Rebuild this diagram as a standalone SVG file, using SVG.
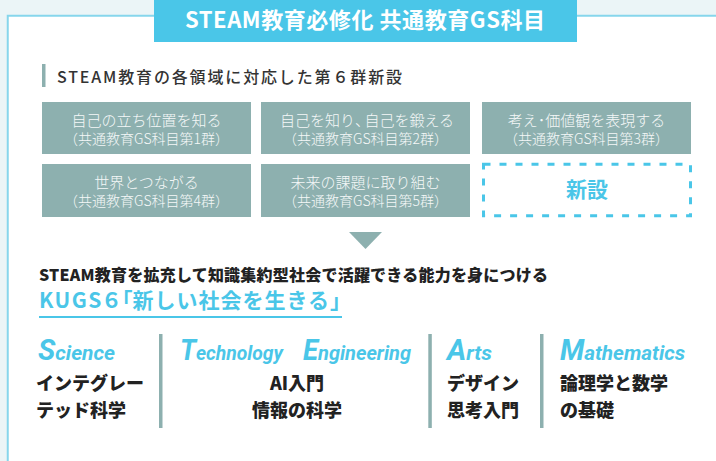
<svg xmlns="http://www.w3.org/2000/svg" width="716" height="461" viewBox="0 0 716 461">
<defs>
<style>
.jp{font-family:"Noto Sans CJK JP","Noto Sans",sans-serif}
.box{fill:#8DB0AF}
.bt1{font-size:15px;fill:#F5F8F8;font-weight:300;text-anchor:middle}
.bt2{font-size:14px;fill:#F5F8F8;font-weight:300;text-anchor:middle}
.en{font-family:Roboto,"Liberation Sans",sans-serif;font-weight:700;font-style:italic;fill:#4AC6E8}
.big{font-size:29px}
.sm{font-size:21px}
.sub{font-size:18px;font-weight:800;fill:#222}
.div{fill:#8DB0AF}
.half{font-feature-settings:"halt"}
</style>
</defs>
<rect x="0" y="0" width="716" height="461" fill="#EBF5F7"/>
<rect x="7.75" y="15.75" width="800" height="600" fill="#FFFFFF" stroke="#86D6EC" stroke-width="2"/>
<g id="title">
<rect x="154" y="0" width="423" height="42" fill="#4AC6E8"/>
<text class="jp" x="185" y="28" font-size="22" font-weight="700" fill="#FFFFFF" textLength="360" lengthAdjust="spacing">STEAM教育必修化 共通教育GS科目</text>
</g>
<g id="heading">
<rect x="42" y="64" width="3.5" height="23" fill="#8DB0AF"/>
<text class="jp" x="57" y="83" font-size="16" font-weight="500" fill="#333333" textLength="345" lengthAdjust="spacing">STEAM教育の各領域に対応した第６群新設</text>
</g>
<g id="g1">
<rect class="box" x="42" y="102" width="209" height="52"/>
<text class="jp bt1" x="146.5" y="126">自己の立ち位置を知る</text>
<text class="jp bt2" x="146.5" y="144">（共通教育GS科目第1群）</text>
</g>
<g id="g2">
<rect class="box" x="261" y="102" width="209" height="52"/>
<text class="jp bt1" x="280" y="126" style="text-anchor:start">自己を知り<tspan class="half">、</tspan><tspan x="364.5">自己を鍛える</tspan></text>
<text class="jp bt2" x="365.5" y="144">（共通教育GS科目第2群）</text>
</g>
<g id="g3">
<rect class="box" x="482" y="102" width="209" height="52"/>
<text class="jp bt1" x="586.5" y="126">考え･価値観を表現する</text>
<text class="jp bt2" x="586.5" y="144">（共通教育GS科目第3群）</text>
</g>
<g id="g4">
<rect class="box" x="42" y="164" width="209" height="53"/>
<text class="jp bt1" x="146.5" y="188">世界とつながる</text>
<text class="jp bt2" x="146.5" y="206">（共通教育GS科目第4群）</text>
</g>
<g id="g5">
<rect class="box" x="261" y="164" width="209" height="53"/>
<text class="jp bt1" x="365.5" y="188">未来の課題に取り組む</text>
<text class="jp bt2" x="365.5" y="206">（共通教育GS科目第5群）</text>
</g>
<g id="g6">
<rect x="483.5" y="164.2" width="207" height="51.6" fill="none" stroke="#4AC6E8" stroke-width="3" stroke-dasharray="7 9"/>
<text class="jp" x="587" y="197" font-size="21" font-weight="700" fill="#4AC6E8" text-anchor="middle">新設</text>
</g>
<g id="connectors">
<polygon points="349,232 382,232 365.5,249" fill="#8DB0AF"/>
</g>
<g id="kugs">
<text class="jp" x="39" y="281" font-size="16" font-weight="900" fill="#222222" textLength="509" lengthAdjust="spacing">STEAM教育を拡充して知識集約型社会で活躍できる能力を身につける</text>
<text class="jp" y="308" font-size="21" font-weight="700" fill="#4AC6E8"><tspan x="39" letter-spacing="1.5">KUGS</tspan><tspan x="101">６</tspan><tspan class="half" x="122">「</tspan><tspan x="132.5" letter-spacing="1">新しい社会を生きる」</tspan></text>
<rect x="39" y="316" width="303" height="2" fill="#4AC6E8"/>
</g>
<g id="science">
<text class="en" x="38" y="360" textLength="77" lengthAdjust="spacingAndGlyphs"><tspan class="big">S</tspan><tspan class="sm">cience</tspan></text>
<text class="jp sub" x="36" y="390">インテグレー</text>
<text class="jp sub" x="36" y="417">テッド科学</text>
</g>
<rect class="div" x="159" y="334" width="3.5" height="94"/>
<g id="tech">
<text class="en" x="180" y="360" textLength="103" lengthAdjust="spacingAndGlyphs"><tspan class="big">T</tspan><tspan class="sm">echnology</tspan></text>
<text class="en" x="303" y="360" textLength="108" lengthAdjust="spacingAndGlyphs"><tspan class="big">E</tspan><tspan class="sm">ngineering</tspan></text>
<text class="jp sub" x="297" y="390" text-anchor="middle">AI入門</text>
<text class="jp sub" x="297" y="417" text-anchor="middle">情報の科学</text>
</g>
<rect class="div" x="428.3" y="334" width="3.5" height="94"/>
<g id="arts">
<text class="en" x="447" y="360" textLength="45" lengthAdjust="spacingAndGlyphs"><tspan class="big">A</tspan><tspan class="sm">rts</tspan></text>
<text class="jp sub" x="447" y="390">デザイン</text>
<text class="jp sub" x="447" y="417">思考入門</text>
</g>
<rect class="div" x="540" y="334" width="3.5" height="94"/>
<g id="math">
<text class="en" x="560" y="360" textLength="125" lengthAdjust="spacingAndGlyphs"><tspan class="big">M</tspan><tspan class="sm">athematics</tspan></text>
<text class="jp sub" x="560" y="390">論理学と数学</text>
<text class="jp sub" x="560" y="417">の基礎</text>
</g>
</svg>
